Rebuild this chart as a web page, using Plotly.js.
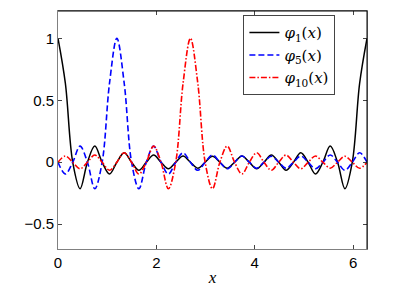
<!DOCTYPE html>
<html>
<head>
<meta charset="utf-8">
<script src="https://cdn.plot.ly/plotly-3.0.1.min.js"></script>
<style>html,body{margin:0;padding:0;background:#fff;}#chart{width:399px;height:300px;}</style>
</head>
<body>
<div id="chart"></div>
<script>
// sample positions (half grid spacing, pi/21)
var xs = [0,0.1496,0.2992,0.4488,0.5984,0.7480,0.8976,1.0472,1.1968,1.3464,1.4960,1.6456,1.7952,1.9448,2.0944,2.2440,2.3936,2.5432,2.6928,2.8424,2.9920,3.1416,3.2912,3.4408,3.5904,3.7400,3.8896,4.0392,4.1888,4.3384,4.4880,4.6376,4.7872,4.9368,5.0864,5.2360,5.3856,5.5352,5.6848,5.8344,5.9840,6.1336,6.2832];
var phi1 = [1,0.637,0,-0.214,0,0.130,0,-0.095,0,0.076,0,-0.065,0,0.058,0,-0.053,0,0.050,0,-0.048,0,0.048,0,-0.048,0,0.050,0,-0.053,0,0.058,0,-0.065,0,0.076,0,-0.095,0,0.130,0,-0.214,0,0.637,1];
var phi5 = [0,-0.095,0,0.130,0,-0.214,0,0.637,1,0.637,0,-0.214,0,0.130,0,-0.095,0,0.076,0,-0.065,0,0.058,0,-0.053,0,0.050,0,-0.048,0,0.048,0,-0.048,0,0.050,0,-0.053,0,0.058,0,-0.065,0,0.076,0];
var phi10 = [0,0.050,0,-0.053,0,0.058,0,-0.065,0,0.076,0,-0.095,0,0.130,0,-0.214,0,0.637,1,0.637,0,-0.214,0,0.130,0,-0.095,0,0.076,0,-0.065,0,0.058,0,-0.053,0,0.050,0,-0.048,0,0.048,0,-0.048,0];
var names = ['<i>φ</i><sub>1</sub>(<i>x</i>)','<i>φ</i><sub>5</sub>(<i>x</i>)','<i>φ</i><sub>10</sub>(<i>x</i>)'];
var xTicks = [0,2,4,6];
var yTicks = [-0.5,0,0.5,1];

var traces = [
  {x: xs, y: phi1, name: names[0], mode: 'lines', line: {color: '#000000', width: 1.5, shape: 'spline', smoothing: 1}},
  {x: xs, y: phi5, name: names[1], mode: 'lines', line: {color: '#0000ff', width: 1.6, dash: '6px,3px', shape: 'spline', smoothing: 1}},
  {x: xs, y: phi10, name: names[2], mode: 'lines', line: {color: '#ff0000', width: 1.6, dash: '6px,2px,1.5px,2px', shape: 'spline', smoothing: 1}}
];

var tickFont = {family: 'Liberation Sans, Arial, sans-serif', size: 15, color: '#000'};
var layout = {
  width: 399, height: 300,
  margin: {l: 58, r: 32, t: 11, b: 51, pad: 0},
  paper_bgcolor: '#fff', plot_bgcolor: '#fff',
  showlegend: true,
  xaxis: {
    range: [0, 6.2832], tickvals: xTicks, ticks: 'inside', ticklen: 4, tickcolor: '#444',
    showline: true, linecolor: '#808080', linewidth: 1, mirror: 'ticks', showgrid: false, zeroline: false,
    tickfont: tickFont,
    title: {text: '<i>x</i>', font: {family: 'Liberation Serif, DejaVu Serif, serif', size: 17, color: '#000'}, standoff: 1}
  },
  yaxis: {
    range: [-0.7, 1.22], tickvals: yTicks, ticks: 'inside', ticklen: 4, tickcolor: '#444',
    showline: true, linecolor: '#808080', linewidth: 1, mirror: 'ticks', showgrid: false, zeroline: false,
    tickfont: tickFont
  },
  legend: {
    x: 0.6, y: 0.982, xanchor: 'left', yanchor: 'top',
    bgcolor: '#fff', bordercolor: '#444', borderwidth: 1,
    font: {family: 'DejaVu Serif, Liberation Serif, serif', size: 15, color: '#000'},
    tracegroupgap: 0, itemwidth: 30
  },
  shapes: [
    {type: 'line', xref: 'paper', yref: 'paper', x0: 0, x1: 1, y0: 1, y1: 1, line: {color: '#000', width: 1}},
    {type: 'line', xref: 'paper', yref: 'paper', x0: 1, x1: 1, y0: 0, y1: 1, line: {color: '#000', width: 1}}
  ]
};
Plotly.newPlot('chart', traces, layout, {displayModeBar: false, staticPlot: true});
</script>
</body>
</html>
